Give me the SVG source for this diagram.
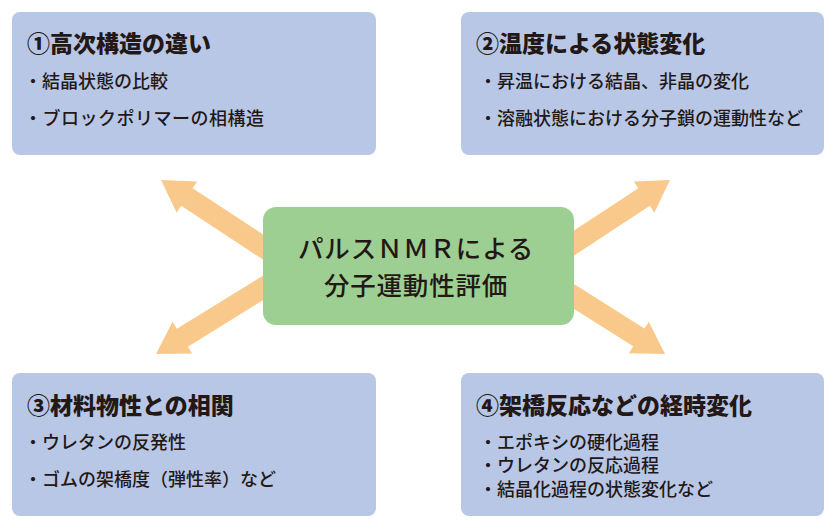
<svg xmlns="http://www.w3.org/2000/svg" width="839" height="532" viewBox="0 0 839 532">
<style>
.box{fill:#B8C7E6}
.center{fill:#9DCF92}
.arrow{fill:#F9C98C}
text{font-family:"Noto Sans CJK JP","Noto Sans",sans-serif;fill:#231815}
.title{font-size:23px;font-weight:900}
.item{font-size:18px;font-weight:500}
.ctext{font-size:25.5px;font-weight:500;letter-spacing:0.8px;text-anchor:middle}
</style>
<defs>
<polygon id="arr" points="0,0 -31,-18.7 -31,-10.5 -230,-10.5 -230,10.5 -31,10.5 -31,18.7"/>
</defs>
<rect width="839" height="532" fill="#ffffff"/>
<g id="connectors" class="arrow">
<use href="#arr" transform="translate(161,180) rotate(213.3)"/>
<use href="#arr" transform="translate(670,180) rotate(-33.3)"/>
<use href="#arr" transform="translate(156,354) rotate(148.3)"/>
<use href="#arr" transform="translate(665,354) rotate(32.3)"/>
</g>
<g id="node-center">
<rect class="center" x="263" y="207" width="311" height="118" rx="13"/>
<text class="ctext" x="416" y="258">パルスＮＭＲによる</text>
<text class="ctext" x="416" y="295">分子運動性評価</text>
</g>
<g id="node-1">
<rect class="box" x="12" y="12" width="364" height="143" rx="8"/>
<text class="title" x="27" y="52">①高次構造の違い</text>
<text class="item" x="24" y="88">・結晶状態の比較</text>
<text class="item" x="24" y="124.5" letter-spacing="0.5">・ブロックポリマーの相構造</text>
</g>
<g id="node-2">
<rect class="box" x="461" y="12" width="363" height="143" rx="8"/>
<text class="title" x="476" y="52">②温度による状態変化</text>
<text class="item" x="479" y="88">・昇温における結晶、非晶の変化</text>
<text class="item" x="479" y="124.5">・溶融状態における分子鎖の運動性など</text>
</g>
<g id="node-3">
<rect class="box" x="12" y="373" width="364" height="143" rx="8"/>
<text class="title" x="27" y="413.5">③材料物性との相関</text>
<text class="item" x="24" y="448.5">・ウレタンの反発性</text>
<text class="item" x="24" y="486">・ゴムの架橋度（弾性率）など</text>
</g>
<g id="node-4">
<rect class="box" x="461" y="373" width="363" height="143" rx="8"/>
<text class="title" x="476" y="413.5">④架橋反応などの経時変化</text>
<text class="item" x="479" y="448.5">・エポキシの硬化過程</text>
<text class="item" x="479" y="472">・ウレタンの反応過程</text>
<text class="item" x="479" y="496">・結晶化過程の状態変化など</text>
</g>
</svg>
